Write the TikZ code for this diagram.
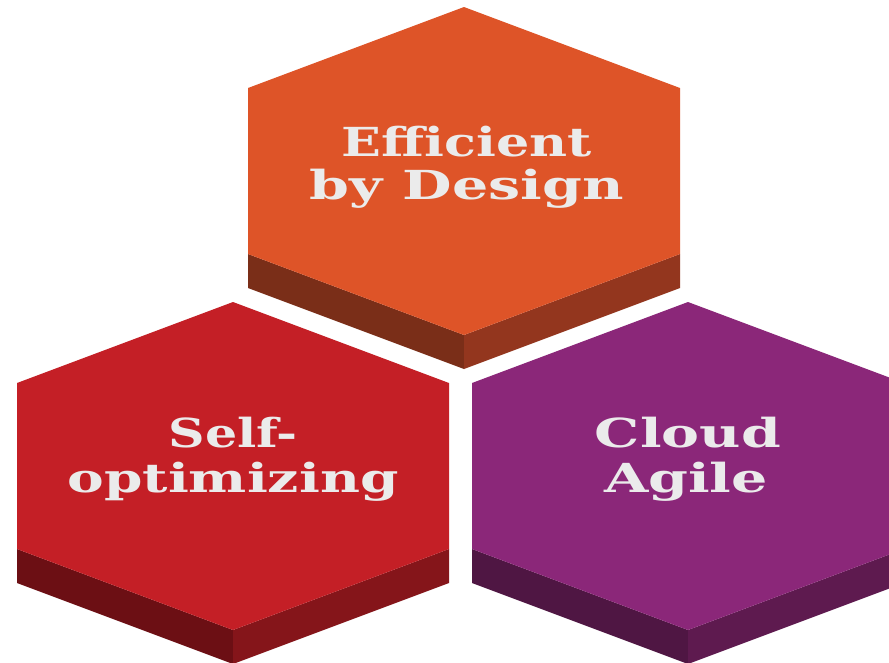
\documentclass[tikz,border=0pt]{standalone}
\usepackage{fontspec}
\setmainfont{DejaVu Serif}
\definecolor{orgface}{HTML}{DE5428}
\definecolor{orgleft}{HTML}{7A2E18}
\definecolor{orgright}{HTML}{93361E}
\definecolor{redface}{HTML}{C41F26}
\definecolor{redleft}{HTML}{6C0F14}
\definecolor{redright}{HTML}{85151A}
\definecolor{purface}{HTML}{8B2779}
\definecolor{purleft}{HTML}{4F1643}
\definecolor{purright}{HTML}{5E1A4F}
\definecolor{lbl}{HTML}{EBEBEB}
\newcommand\drawhexa[5]{%
  \fill[#4] (#1-216,#2+247) -- (#1,#2+328) -- (#1,#2+362) -- (#1-216,#2+281) -- cycle;
  \fill[#5] (#1,#2+328) -- (#1+216,#2+247) -- (#1+216,#2+281) -- (#1,#2+362) -- cycle;
  \fill[#3] (#1,#2) -- (#1-216,#2+81) -- (#1-216,#2+247) -- (#1,#2+328) -- (#1+216,#2+247) -- (#1+216,#2+81) -- cycle;
}
\newcommand\wline[2]{\resizebox{#1pt}{\height}{#2}}
\tikzset{hexlabel/.style={text=lbl, font=\fontsize{40}{43}\selectfont\bfseries, anchor=base, inner sep=0pt}}
\begin{document}
\begin{tikzpicture}[x=1pt,y=-1pt]
\fill[white] (0,0) rectangle (889,662);
\clip (0,0) rectangle (889,662);
\drawhexa{464}{7}{orgface}{orgleft}{orgright}
\drawhexa{233}{302}{redface}{redleft}{redright}
\drawhexa{688}{302}{purface}{purleft}{purright}
\node[hexlabel] (eff1) at (467,156) {\wline{250}{Efficient}};
\node[hexlabel] (eff2) at (467,199) {\wline{314}{by Design}};
\node[hexlabel] (self1) at (233,447) {\wline{129}{Self-}};
\node[hexlabel] (self2) at (233,492) {\wline{331}{optimizing}};
\node[hexlabel] (cld1) at (688,447) {\wline{186}{Cloud}};
\node[hexlabel] (cld2) at (686,492) {\wline{164}{Agile}};
\end{tikzpicture}
\end{document}
